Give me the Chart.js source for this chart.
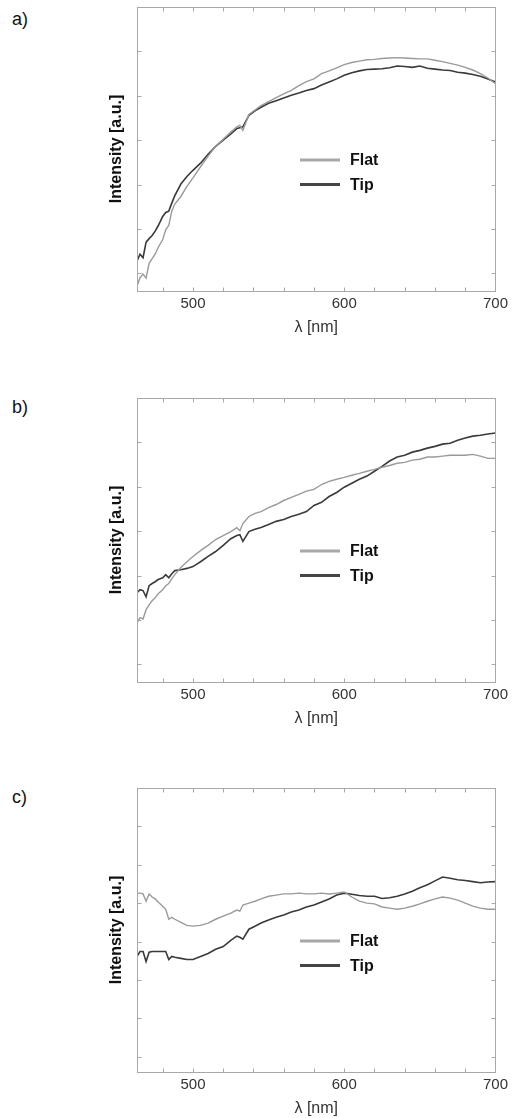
<!DOCTYPE html>
<html>
<head>
<meta charset="utf-8">
<script src="https://cdn.jsdelivr.net/npm/chart.js@4"></script>
<style>
  html, body { margin: 0; padding: 0; background: #fff; overflow: hidden; }
  body { position: relative; width: 512px; height: 1118px; font-family: "Liberation Sans", Arial, sans-serif; }
  canvas { position: absolute; left: 0; }
  .tag { position: absolute; left: 12px; font-size: 18px; line-height: 18px; color: #111; }
</style>
</head>
<body>
<div class="tag" style="top:10px">a)</div>
<div class="tag" style="top:398px">b)</div>
<div class="tag" style="top:788px">c)</div>
<canvas id="graf-a" width="512" height="338" style="top:-1px"></canvas>
<canvas id="graf-b" width="512" height="338" style="top:390px"></canvas>
<canvas id="graf-c" width="512" height="338" style="top:780px"></canvas>
<script>
// comprimento de onda (nm), comum aos três painéis
const wavelength = [463, 465, 467, 469, 471, 473, 475, 477, 480, 482, 484, 486, 488,
  492, 496, 500, 505, 510, 515, 520, 525, 529, 531, 533, 537, 541, 545,
  550, 555, 560, 565, 570, 575, 580, 585, 590, 595, 600, 605, 610, 615, 620, 625, 630, 635,
  640, 645, 650, 655, 660, 665, 670, 675, 680, 685, 690, 695, 700];

// painel a)
const flatA = [-0.29, -0.10, -0.02, -0.11, 0.22, 0.33, 0.43, 0.58, 0.76, 0.98, 1.08, 1.40, 1.56,
  1.73, 1.96, 2.15, 2.40, 2.64, 2.86, 3.02, 3.18, 3.30, 3.33, 3.22, 3.58, 3.68, 3.78,
  3.87, 3.96, 4.04, 4.12, 4.23, 4.32, 4.38, 4.50, 4.56, 4.63, 4.70, 4.75, 4.78, 4.81, 4.82, 4.84, 4.85, 4.86,
  4.85, 4.84, 4.83, 4.83, 4.80, 4.77, 4.73, 4.69, 4.64, 4.58, 4.50, 4.40, 4.27];
const tipA = [0.28, 0.43, 0.35, 0.70, 0.78, 0.85, 0.95, 1.07, 1.28, 1.37, 1.40, 1.58, 1.75,
  2.01, 2.18, 2.32, 2.48, 2.68, 2.86, 3.00, 3.14, 3.26, 3.28, 3.30, 3.56, 3.66, 3.74,
  3.83, 3.89, 3.95, 4.01, 4.06, 4.12, 4.16, 4.24, 4.31, 4.38, 4.46, 4.52, 4.56, 4.59, 4.60, 4.61, 4.63, 4.67,
  4.66, 4.64, 4.67, 4.62, 4.60, 4.58, 4.57, 4.53, 4.51, 4.48, 4.44, 4.38, 4.31];

// painel b)
const flatB = [0.93, 1.05, 1.02, 1.23, 1.34, 1.43, 1.50, 1.59, 1.68, 1.77, 1.82, 1.93, 2.02,
  2.18, 2.31, 2.43, 2.56, 2.68, 2.81, 2.90, 2.99, 3.08, 3.01, 3.17, 3.33, 3.40, 3.44,
  3.53, 3.60, 3.69, 3.76, 3.83, 3.90, 3.94, 4.05, 4.12, 4.17, 4.21, 4.26, 4.30, 4.35, 4.39, 4.44, 4.48, 4.53,
  4.55, 4.60, 4.62, 4.67, 4.67, 4.69, 4.71, 4.71, 4.71, 4.73, 4.69, 4.64, 4.64];
const tipB = [1.61, 1.68, 1.66, 1.52, 1.77, 1.82, 1.86, 1.91, 1.95, 2.02, 1.95, 2.04, 2.11,
  2.13, 2.16, 2.20, 2.31, 2.43, 2.54, 2.68, 2.83, 2.90, 2.92, 2.77, 2.99, 3.04, 3.08,
  3.15, 3.22, 3.26, 3.33, 3.38, 3.44, 3.58, 3.65, 3.78, 3.87, 3.99, 4.08, 4.17, 4.24, 4.35, 4.46, 4.58, 4.67,
  4.71, 4.78, 4.82, 4.87, 4.91, 4.96, 4.98, 5.05, 5.10, 5.14, 5.16, 5.19, 5.21];

// painel c)
const flatC = [4.26, 4.26, 4.24, 4.05, 4.24, 4.16, 4.11, 4.03, 3.92, 3.84, 3.58, 3.63, 3.58,
  3.50, 3.42, 3.40, 3.42, 3.48, 3.58, 3.66, 3.74, 3.82, 3.79, 3.95, 4.00, 4.05, 4.11,
  4.18, 4.21, 4.24, 4.24, 4.26, 4.24, 4.24, 4.26, 4.24, 4.26, 4.29, 4.16, 4.05, 4.00, 3.98, 3.90, 3.87, 3.84,
  3.87, 3.92, 3.98, 4.05, 4.11, 4.16, 4.13, 4.08, 4.00, 3.92, 3.87, 3.84, 3.84];
const tipC = [2.61, 2.74, 2.74, 2.48, 2.72, 2.74, 2.74, 2.74, 2.74, 2.74, 2.53, 2.61, 2.59,
  2.56, 2.53, 2.53, 2.61, 2.69, 2.80, 2.87, 3.03, 3.14, 3.11, 3.06, 3.32, 3.40, 3.48,
  3.56, 3.63, 3.69, 3.77, 3.82, 3.90, 3.95, 4.03, 4.11, 4.21, 4.26, 4.23, 4.20, 4.18, 4.18, 4.12, 4.14, 4.18,
  4.24, 4.31, 4.40, 4.48, 4.58, 4.68, 4.65, 4.61, 4.59, 4.56, 4.53, 4.55, 4.56];

// marcas dos eixos
const xTicks = [480, 500, 520, 540, 560, 580, 600, 620, 640, 660, 680, 700];
const xLabels = [500, 600, 700];
const yTicksAB = [0, 1, 2, 3, 4, 5, 6];
const yTicksC = [0, 1, 2, 3, 4, 5, 6, 7];

Chart.defaults.font.family = "'Liberation Sans', Arial, sans-serif";

// moldura cinza, marcas para dentro e legenda dentro da área do gráfico
const frame = {
  id: "frame",
  afterDraw(chart) {
    const { ctx, chartArea: a, scales: { x, y } } = chart;
    const L = Math.round(a.left) + 0.5, R = Math.round(a.right) + 0.5;
    const T = Math.round(a.top) + 0.5, B = Math.round(a.bottom) + 0.5;
    ctx.save();
    ctx.strokeStyle = "#a8a8a8";
    ctx.lineWidth = 1;
    ctx.strokeRect(L, T, R - L, B - T);
    ctx.beginPath();
    x.ticks.forEach(t => {
      const px = Math.round(x.getPixelForValue(t.value)) + 0.5;
      ctx.moveTo(px, B); ctx.lineTo(px, B - 4);
      ctx.moveTo(px, T); ctx.lineTo(px, T + 4);
    });
    y.ticks.forEach(t => {
      const py = Math.round(y.getPixelForValue(t.value)) + 0.5;
      ctx.moveTo(L, py); ctx.lineTo(L + 4, py);
      ctx.moveTo(R, py); ctx.lineTo(R - 4, py);
    });
    ctx.stroke();

    // legenda
    const lx = a.left + 163, ly = a.top + 153;
    ctx.font = "bold 16px 'Liberation Sans', Arial, sans-serif";
    ctx.textBaseline = "middle";
    ctx.fillStyle = "#111";
    chart.data.datasets.forEach((ds, i) => {
      const yy = ly + i * 24.5;
      ctx.strokeStyle = ds.legendColor;
      ctx.lineWidth = 3;
      ctx.beginPath();
      ctx.moveTo(lx, yy); ctx.lineTo(lx + 40, yy);
      ctx.stroke();
      ctx.fillText(ds.label, lx + 50, yy + 1);
    });
    ctx.restore();
  }
};

function panel(id, flat, tip, yTicks) {
  const pts = vals => wavelength.map((x, i) => ({ x: x, y: vals[i] }));
  return new Chart(document.getElementById(id), {
    type: "line",
    data: {
      datasets: [
        { label: "Flat", data: pts(flat), borderColor: "#9a9a9a", legendColor: "#a8a8a8",
          borderWidth: 1.4, pointRadius: 0, tension: 0 },
        { label: "Tip", data: pts(tip), borderColor: "#3a3a3a", legendColor: "#444",
          borderWidth: 1.6, pointRadius: 0, tension: 0 }
      ]
    },
    options: {
      responsive: false,
      animation: false,
      events: [],
      layout: { padding: { left: 107, right: 16, top: 8, bottom: 0 } },
      plugins: { legend: { display: false }, tooltip: { enabled: false } },
      scales: {
        x: {
          type: "linear", min: 463, max: 700,
          grid: { display: false, drawTicks: false }, border: { display: false },
          afterBuildTicks: s => { s.ticks = xTicks.map(v => ({ value: v })); },
          afterFit: s => { s.height = 46; },
          ticks: {
            autoSkip: false, maxRotation: 0, padding: 4, color: "#333",
            font: { size: 15 },
            callback: v => (xLabels.includes(v) ? String(v) : "")
          },
          title: { display: true, text: "λ [nm]", padding: 0, color: "#333", font: { size: 16 } }
        },
        y: {
          type: "linear", min: -0.4, max: yTicks[yTicks.length - 1],
          grid: { display: false, drawTicks: false }, border: { display: false },
          afterBuildTicks: s => { s.ticks = yTicks.map(v => ({ value: v })); },
          afterFit: s => { s.width = 30; },
          ticks: { display: false },
          title: { display: true, text: "Intensity [a.u.]", padding: 0, color: "#111",
                   font: { size: 16, weight: "bold" } }
        }
      }
    },
    plugins: [frame]
  });
}

panel("graf-a", flatA, tipA, yTicksAB);
panel("graf-b", flatB, tipB, yTicksAB);
panel("graf-c", flatC, tipC, yTicksC);
</script>
</body>
</html>
